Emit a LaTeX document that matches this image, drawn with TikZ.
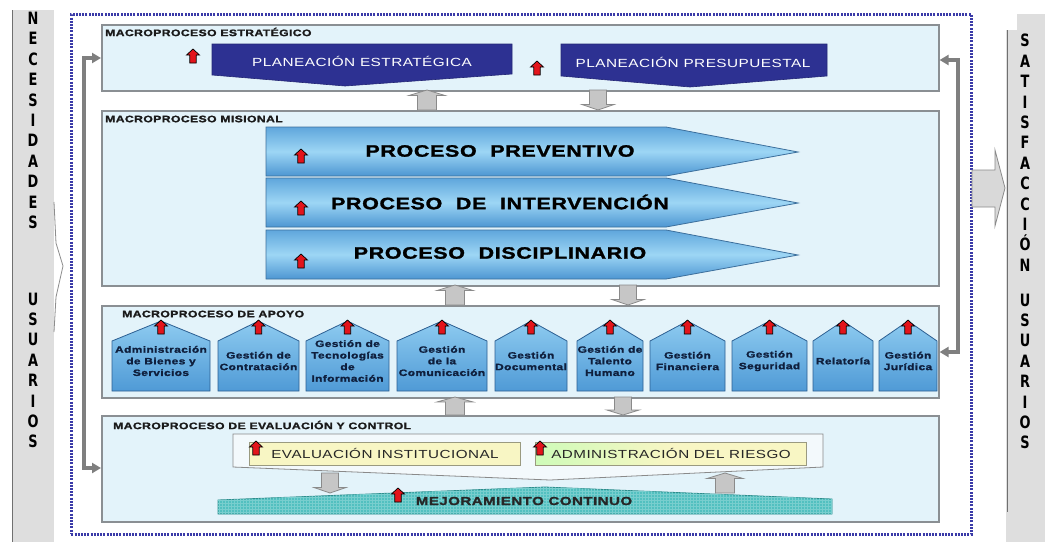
\documentclass[tikz,border=0pt]{standalone}
\usepackage{fontspec}
\setmainfont{Liberation Sans}
\newfontfamily\widef[FakeStretch=1.3,LetterSpace=4]{Liberation Sans}
\newfontfamily\heavyf[FakeStretch=1.3,LetterSpace=4,FakeBold=1.6]{Liberation Sans}
\newfontfamily\narrowf[FakeStretch=0.76]{DejaVu Sans}
\usetikzlibrary{arrows.meta,patterns,calc}
\definecolor{secfill}{HTML}{E3F3FA}
\definecolor{secline}{HTML}{8A8F93}
\definecolor{titlecol}{HTML}{1A1A1A}
\definecolor{navyb}{HTML}{2D3192}
\definecolor{chevtop}{HTML}{5FA6DC}
\definecolor{chevmid}{HTML}{9DD6F5}
\definecolor{chevbot}{HTML}{4D96D2}
\definecolor{chevline}{HTML}{3C6F9C}
\definecolor{houtop}{HTML}{8ECBF0}
\definecolor{houbot}{HTML}{4F9AD6}
\definecolor{houline}{HTML}{2C5F92}
\definecolor{houtext}{HTML}{0F1F3D}
\definecolor{arrred}{HTML}{E3141B}
\definecolor{grayfill}{HTML}{C6C6C6}
\definecolor{grayline}{HTML}{8A8A8A}
\definecolor{fbgray}{HTML}{7F7F7F}
\definecolor{framecol}{HTML}{3A3AA8}
\definecolor{yelfill}{HTML}{F8F6C4}
\definecolor{yelline}{HTML}{9A9A80}
\definecolor{tealf}{HTML}{52C0C0}
\definecolor{tealgrid}{HTML}{78CECE}
\definecolor{tealline}{HTML}{2F8C8C}
\definecolor{barfill}{HTML}{DEDEDE}
\definecolor{barline}{HTML}{707070}
\definecolor{innerfill}{HTML}{F3F9FC}
\newcommand\hous[4]{%
  \draw[house] (#2,391) -- (#2,341) -- ({(#2+#3)/2},321) -- (#3,341) -- (#3,391) -- cycle;
  \node[housetext] (#1) at ({(#2+#3)/2},361) {#4};
  \pic at ({(#2+#3)/2},327) {redup};}
\tikzset{
  secbox/.style={draw=secline, fill=secfill, line width=1.6pt, anchor=north west, inner sep=0pt},
  sectitle/.style={anchor=west, inner sep=0pt, text=titlecol, font=\heavyf\bfseries\fontsize{9.4}{10}\selectfont},
  banner/.style={fill=navyb, draw=navyb!80!black, line width=0.6pt},
  bannertext/.style={inner sep=0pt, text=white, font=\widef\fontsize{11.8}{13}\selectfont},
  chev/.style={top color=chevtop, bottom color=chevbot, middle color=chevmid, draw=chevline, line width=0.8pt},
  chevtext/.style={inner sep=0pt, text=black, font=\heavyf\bfseries\fontsize{16.5}{18}\selectfont},
  house/.style={top color=houtop, bottom color=houbot, draw=houline, line width=0.8pt},
  housetext/.style={inner sep=0pt, align=center, text=houtext, font=\heavyf\bfseries\fontsize{9.2}{11.6}\selectfont},
  sidetext/.style={inner sep=0pt, align=center, text=black, font=\narrowf\bfseries\fontsize{17}{20.4}\selectfont},
  fb/.style={draw=fbgray, line width=3.5pt, {Triangle[length=9pt,width=10pt]}-{Triangle[length=9pt,width=10pt]}},
  yelbox/.style={draw=yelline, fill=yelfill, line width=0.8pt, minimum width=271pt, minimum height=23pt, inner sep=0pt, text=black!85, font=\widef\fontsize{11.7}{13}\selectfont},
  redup/.pic={\draw[fill=arrred, draw=black, line width=0.7pt] (0,-7) -- (6.5,-1) -- (3.2,-1) -- (3.2,7) -- (-3.2,7) -- (-3.2,-1) -- (-6.5,-1) -- cycle;},
  grayup/.pic={\draw[fill=grayfill, draw=grayline, line width=0.8pt] (0,-10) -- (18,-4.5) -- (9.5,-4.5) -- (9.5,10) -- (-9.5,10) -- (-9.5,-4.5) -- (-18,-4.5) -- cycle;},
  graydown/.pic={\draw[fill=grayfill, draw=grayline, line width=0.8pt] (0,10) -- (16,4.5) -- (8.5,4.5) -- (8.5,-10) -- (-8.5,-10) -- (-8.5,4.5) -- (-16,4.5) -- cycle;}
}
\begin{document}
\begin{tikzpicture}[x=1pt,y=-1pt]
\useasboundingbox (0,0) rectangle (1045,542);
\fill[white] (0,0) rectangle (1045,542);
% ---------- side bars
\fill[barfill] (12,10) rectangle (54,542);
\draw[barline, line width=1.2pt] (12.6,10) -- (12.6,542);
\node[sidetext] (nec) at (33,120.5) {N\\E\\C\\E\\S\\I\\D\\A\\D\\E\\S};
\node[sidetext] (usl) at (33,370.5) {U\\S\\U\\A\\R\\I\\O\\S};
\fill[barfill] (1017,14) rectangle (1045,30);
\fill[barfill] (1006,30) rectangle (1045,542);
\draw[barline, line width=1pt] (1007,30) -- (1007,512);
\node[sidetext] (sat) at (1025,152.8) {S\\A\\T\\I\\S\\F\\A\\C\\C\\I\\Ó\\N};
\node[sidetext] (usr) at (1025,371.5) {U\\S\\U\\A\\R\\I\\O\\S};
% faint entry arrow on the left
\draw[barline!80, line width=0.8pt] (54,202) -- (56,243) -- (63,266) -- (56,297) -- (54,332);
% ---------- dotted frame
\node[draw=framecol, line width=2.6pt, dash pattern=on 2pt off 1.2pt, minimum width=900pt, minimum height=520pt, anchor=north west, inner sep=0pt] (frame) at (70,13) {};
% big exit arrow
\draw[draw=grayline, top color=grayfill!70, bottom color=grayfill!110!black, line width=0.8pt] (972,170) -- (995,170) -- (995,150) -- (1005,188) -- (995,226) -- (995,207) -- (972,207) -- cycle;
% ---------- section boxes
\node[secbox, minimum width=837pt, minimum height=66pt] (est) at (101,24) {};
\node[secbox, minimum width=837pt, minimum height=175pt] (mis) at (101,110) {};
\node[secbox, minimum width=837pt, minimum height=92pt] (apo) at (101,305) {};
\node[secbox, minimum width=837pt, minimum height=106pt] (eva) at (101,415) {};
\node[sectitle] (t1) at (105,32) {MACROPROCESO ESTRATÉGICO};
\node[sectitle] (t2) at (105,119) {MACROPROCESO MISIONAL};
\node[sectitle] (t3) at (122,314) {MACROPROCESO DE APOYO};
\node[sectitle] (t4) at (113,425) {MACROPROCESO DE EVALUACIÓN Y CONTROL};
% ---------- feedback lines
\coordinate (lt) at (84,58);
\coordinate (lb) at (84,468);
\coordinate (rt) at (958,60);
\coordinate (rb) at (958,352);
\draw[fb] (est.west |- lt) -- (lt) -- (lb) -- (eva.west |- lb);
\draw[fb] (est.east |- rt) -- (rt) -- (rb) -- (apo.east |- rb);
% ---------- block arrows between sections
\pic at (427,100) {grayup};
\pic at (598,100) {graydown};
\pic at (455,295) {grayup};
\pic at (628,295) {graydown};
\pic[yscale=0.9] at (455,406) {grayup};
\pic[yscale=0.9] at (623,406) {graydown};
% ---------- strategic
\draw[banner] (212,44) -- (512,44) -- (512,74) -- (345,86) -- (212,75) -- cycle;
\draw[banner] (561,44) -- (827,44) -- (827,76) -- (690,87) -- (561,76) -- cycle;
\node[bannertext] (pe) at (362,61) {PLANEACIÓN ESTRATÉGICA};
\node[bannertext] (pp) at (693,62) {PLANEACIÓN PRESUPUESTAL};
\pic at (193,56) {redup};
\pic at (537,68) {redup};
% ---------- misional
\draw[chev] (266,127) -- (666,127) -- (798,152) -- (666,176) -- (266,176) -- cycle;
\draw[chev] (266,178) -- (666,178) -- (798,203) -- (666,227) -- (266,227) -- cycle;
\draw[chev] (266,230) -- (666,230) -- (798,255) -- (666,279) -- (266,279) -- cycle;
\node[chevtext] (p1) at (500,151) {PROCESO\hspace{7pt} PREVENTIVO};
\node[chevtext] (p2) at (500,202) {PROCESO\hspace{7pt} DE\hspace{7pt} INTERVENCIÓN};
\node[chevtext] (p3) at (500,253) {PROCESO\hspace{7pt} DISCIPLINARIO};
\pic at (301,156) {redup};
\pic at (301,208) {redup};
\pic at (301,261) {redup};
% ---------- apoyo
\hous{h1}{112}{210}{Administración\\de Bienes y\\Servicios}
\hous{h2}{218}{299}{Gestión de\\Contratación}
\hous{h3}{306}{389}{Gestión de\\Tecnologías\\de\\Información}
\hous{h4}{397}{487}{Gestión\\de la\\Comunicación}
\hous{h5}{495}{567}{Gestión\\Documental}
\hous{h6}{577}{643}{Gestión de\\Talento\\Humano}
\hous{h7}{650}{725}{Gestión\\Financiera}
\hous{h8}{732}{807}{Gestión\\Seguridad}
\hous{h9}{813}{873}{Relatoría}
\hous{h10}{879}{937}{Gestión\\Jurídica}
% ---------- evaluacion y control
\draw[draw=grayline, fill=innerfill, line width=0.8pt] (233,434) -- (823,434) -- (823,467) -- (550,480) -- (233,467) -- cycle;
\node[yelbox] (ei) at (385,453.5) {EVALUACIÓN INSTITUCIONAL};
\node[yelbox, left color=yelfill!70!green!60!white, right color=yelfill, middle color=yelfill] (ar) at (671,453.5) {ADMINISTRACIÓN DEL RIESGO};
\pic at (256,448) {redup};
\pic at (540,448) {redup};
\pic at (330,483) {graydown};
\pic at (725,483) {grayup};
\draw[draw=tealline, fill=tealf, line width=0.8pt, postaction={pattern=grid, pattern color=tealgrid}] (218,514) -- (218,500) -- (545,487) -- (832,499) -- (832,514) -- cycle;
\node[inner sep=0pt, text=black!85, font=\heavyf\bfseries\fontsize{11.6}{13}\selectfont] (mc) at (524,501) {MEJORAMIENTO CONTINUO};
\pic at (398,495) {redup};
\end{tikzpicture}
\end{document}
